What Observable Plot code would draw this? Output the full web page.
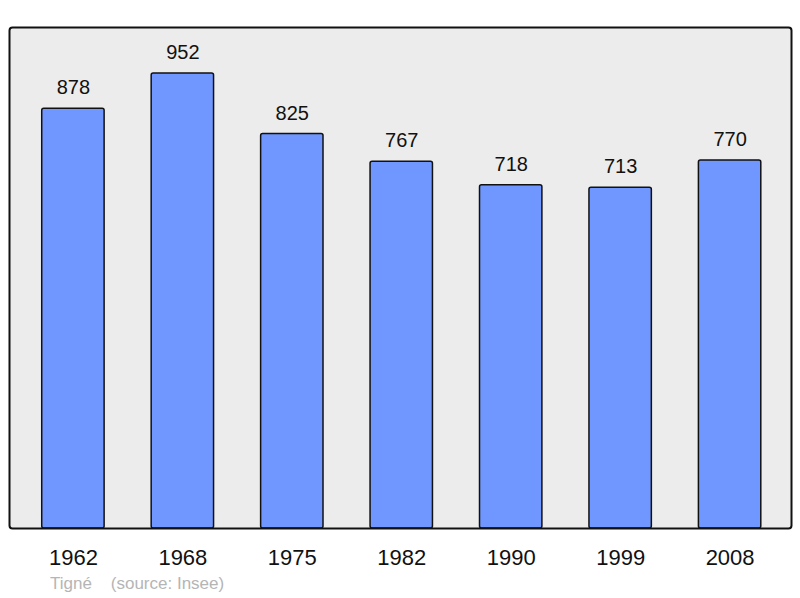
<!DOCTYPE html>
<html>
<head>
<meta charset="utf-8">
<script src="https://cdn.jsdelivr.net/npm/d3@7"></script>
<script src="https://cdn.jsdelivr.net/npm/@observablehq/plot@0.6"></script>
<style>
  html, body { margin: 0; padding: 0; background: #fff; }
  figure { margin: 0 !important; }
  figure figcaption {
    font-family: "Liberation Sans", Arial, sans-serif !important;
    font-size: 17px !important;
    line-height: 20px !important;
    color: #b5b5b5 !important;
    padding-left: 50px !important;
    padding-top: 2px !important;
    margin: 0 !important;
    white-space: pre;
  }
</style>
</head>
<body>
<div id="chart"></div>
<script>
const years = ["1962", "1968", "1975", "1982", "1990", "1999", "2008"];
const population = [878, 952, 825, 767, 718, 713, 770];
const captionText = "Tigné    (source: Insee)";

const data = years.map((y, i) => ({year: y, value: population[i]}));

const chart = Plot.plot({
  width: 800,
  height: 572,
  marginTop: 27,
  marginBottom: 44,
  marginLeft: 9,
  marginRight: 9,
  style: {fontFamily: "'Liberation Sans', Arial, sans-serif", background: "white"},
  x: {domain: years, paddingInner: 0.43, paddingOuter: 0.2875, align: 0.52, round: false, label: null},
  y: {domain: [0, 1048], axis: null},
  caption: captionText,
  marks: [
    Plot.frame({fill: "#ececec", stroke: "none"}),
    Plot.barY(data, {x: "year", y: "value", fill: "#7097ff", stroke: "#111", strokeWidth: 1.5, rx: 2}),
    Plot.text(data, {x: "year", y: "value", text: d => String(d.value), dy: -21, fontSize: 20, fill: "#111"}),
    Plot.frame({stroke: "#111", strokeWidth: 2, rx: 3}),
    Plot.axisX({tickSize: 0, tickPadding: 21, fontSize: 22, fill: "#111", label: null})
  ]
});
document.getElementById("chart").append(chart);
</script>
</body>
</html>
